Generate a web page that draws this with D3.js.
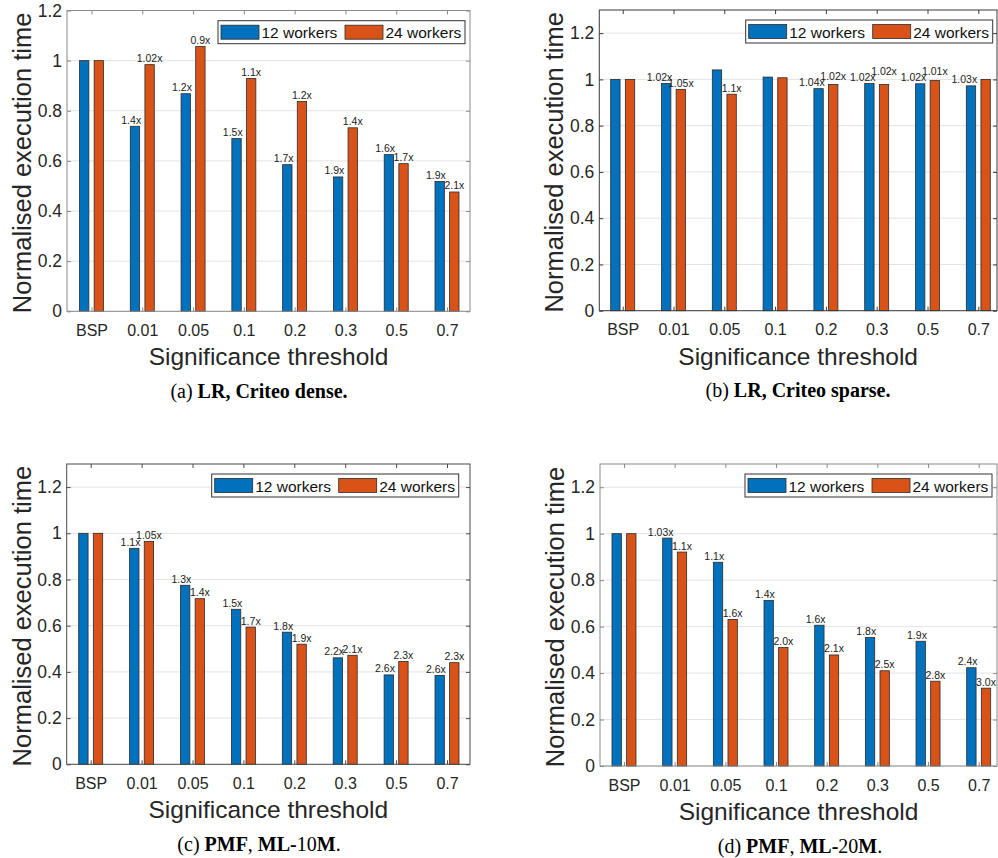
<!DOCTYPE html>
<html>
<head>
<meta charset="utf-8">
<script src="https://cdn.jsdelivr.net/npm/d3@7"></script>
<style>
  html, body { margin: 0; padding: 0; background: #fff; }
  svg { display: block; }
</style>
</head>
<body>
<svg id="chart" width="998" height="858"></svg>
<script>
// ---------------- DATA ----------------
const categories = ["BSP", "0.01", "0.05", "0.1", "0.2", "0.3", "0.5", "0.7"];
const seriesNames = ["12 workers", "24 workers"];
const yTicksA = [0, 0.2, 0.4, 0.6, 0.8, 1, 1.2];
const yTickLabels = ["0", "0.2", "0.4", "0.6", "0.8", "1", "1.2"];

// (a) LR, Criteo dense
const lrDense12 = [1.0, 0.738, 0.868, 0.689, 0.585, 0.536, 0.625, 0.518];
const lrDense24 = [1.0, 0.984, 1.056, 0.929, 0.837, 0.732, 0.589, 0.476];
const lrDenseLbl12 = ["", "1.4x", "1.2x", "1.5x", "1.7x", "1.9x", "1.6x", "1.9x"];
const lrDenseLbl24 = ["", "1.02x", "0.9x", "1.1x", "1.2x", "1.4x", "1.7x", "2.1x"];

// (b) LR, Criteo sparse
const lrSparse12 = [1.0, 0.982, 1.041, 1.010, 0.960, 0.982, 0.981, 0.972];
const lrSparse24 = [1.0, 0.957, 0.936, 1.007, 0.978, 0.978, 0.995, 1.0];
const lrSparseLbl12 = ["", "1.02x", "", "", "1.04x", "1.02x", "1.02x", "1.03x"];
const lrSparseLbl24 = ["", "1.05x", "1.1x", "", "1.02x", "1.02x", "1.01x", ""];

// (c) PMF, ML-10M
const pmf10m12 = [1.0, 0.935, 0.775, 0.671, 0.572, 0.461, 0.387, 0.385];
const pmf10m24 = [1.0, 0.965, 0.717, 0.594, 0.520, 0.472, 0.445, 0.440];
const pmf10mLbl12 = ["", "1.1x", "1.3x", "1.5x", "1.8x", "2.2x", "2.6x", "2.6x"];
const pmf10mLbl24 = ["", "1.05x", "1.4x", "1.7x", "1.9x", "2.1x", "2.3x", "2.3x"];

// (d) PMF, ML-20M
const pmf20m12 = [1.0, 0.981, 0.877, 0.713, 0.606, 0.553, 0.537, 0.423];
const pmf20m24 = [1.0, 0.921, 0.631, 0.510, 0.478, 0.410, 0.365, 0.335];
const pmf20mLbl12 = ["", "1.03x", "1.1x", "1.4x", "1.6x", "1.8x", "1.9x", "2.4x"];
const pmf20mLbl24 = ["", "1.1x", "1.6x", "2.0x", "2.1x", "2.5x", "2.8x", "3.0x"];

const xTitle = "Significance threshold";
const yTitle = "Normalised execution time";
const captionA = [["(a) ", false], ["LR, Criteo dense.", true]];
const captionB = [["(b) ", false], ["LR, Criteo sparse.", true]];
const captionC = [["(c) ", false], ["PMF", true], [", ", false], ["ML-", true], ["10", false], ["M", true], [".", false]];
const captionD = [["(d) ", false], ["PMF", true], [", ", false], ["ML-", true], ["20", false], ["M", true], [".", false]];

// ---------------- STYLE / LAYOUT ----------------
const colors = ["#0072BD", "#D95319"];
const textColor = "#262626";
const sans = "'Liberation Sans', Arial, Helvetica, sans-serif";
const serif = "'Liberation Serif', 'Times New Roman', serif";

const panels = [
  { v: [lrDense12, lrDense24], l: [lrDenseLbl12, lrDenseLbl24], cap: captionA, yMax: 1.2,
    left: 67, right: 470, top: 10.5, bottom: 311.3, c0: 91.5, c7: 447, axis: "#8a8a8a",
    legend: { x: 218, y: 20.7 }, capX: 259 },
  { v: [lrSparse12, lrSparse24], l: [lrSparseLbl12, lrSparseLbl24], cap: captionB, yMax: 1.3,
    left: 599.3, right: 997, top: 10, bottom: 310.7, c0: 622.7, c7: 978.3, axis: "#3a3a3a",
    legend: { x: 745.7, y: 20 }, capX: 798 },
  { v: [pmf10m12, pmf10m24], l: [pmf10mLbl12, pmf10mLbl24], cap: captionC, yMax: 1.3,
    left: 66.7, right: 470, top: 464, bottom: 764.3, c0: 90.7, c7: 447, axis: "#4a4a4a",
    legend: { x: 211.7, y: 474 }, capX: 259 },
  { v: [pmf20m12, pmf20m24], l: [pmf20mLbl12, pmf20mLbl24], cap: captionD, yMax: 1.3,
    left: 600, right: 997, top: 464, bottom: 766, c0: 624, c7: 978.7, axis: "#8a8a8a",
    legend: { x: 745, y: 474 }, capX: 800 }
];

const svg = d3.select("#chart");

panels.forEach((p) => {
  const g = svg.append("g");
  const x = d3.scalePoint().domain(categories).range([p.c0, p.c7]);
  const inner = d3.scaleBand().domain(seriesNames).range([-12, 12]).paddingInner(0.36);
  const y = d3.scaleLinear().domain([0, p.yMax]).range([p.bottom, p.top]);

  // grid
  g.append("g").selectAll("line").data(yTicksA).join("line")
    .attr("x1", p.left).attr("x2", p.right)
    .attr("y1", d => y(d)).attr("y2", d => y(d))
    .attr("stroke", "#e3e3e3").attr("stroke-width", 1);

  // bars
  seriesNames.forEach((s, si) => {
    g.append("g").selectAll("rect").data(p.v[si]).join("rect")
      .attr("x", (d, i) => x(categories[i]) + inner(s))
      .attr("width", inner.bandwidth())
      .attr("y", d => y(d))
      .attr("height", d => y(0) - y(d))
      .attr("fill", colors[si])
      .attr("stroke", "#2b2b2b").attr("stroke-width", 0.8);
  });

  // box
  g.append("rect")
    .attr("x", p.left).attr("y", p.top)
    .attr("width", p.right - p.left).attr("height", p.bottom - p.top)
    .attr("fill", "none").attr("stroke", p.axis).attr("stroke-width", 1);

  // y axes (inward ticks)
  const yAxis = g.append("g").attr("transform", `translate(${p.left},0)`)
    .call(d3.axisLeft(y).tickValues(yTicksA).tickFormat((d, i) => yTickLabels[i])
      .tickSizeInner(-4).tickSizeOuter(0).tickPadding(5));
  yAxis.select(".domain").remove();
  yAxis.selectAll("line").attr("stroke", p.axis);
  yAxis.selectAll("text").attr("font-family", sans).attr("font-size", 17.5).attr("fill", textColor);

  const yAxisR = g.append("g").attr("transform", `translate(${p.right},0)`)
    .call(d3.axisRight(y).tickValues(yTicksA).tickFormat("").tickSizeInner(-4).tickSizeOuter(0));
  yAxisR.select(".domain").remove();
  yAxisR.selectAll("line").attr("stroke", p.axis);

  // x axes
  const xAxis = g.append("g").attr("transform", `translate(0,${p.bottom})`)
    .call(d3.axisBottom(x).tickSizeInner(-4).tickSizeOuter(0).tickPadding(0));
  xAxis.select(".domain").remove();
  xAxis.selectAll("line").attr("stroke", p.axis);
  xAxis.selectAll("text").attr("y", 24.5).attr("dy", null)
    .attr("font-family", sans).attr("font-size", 16).attr("fill", textColor);

  const xAxisT = g.append("g").attr("transform", `translate(0,${p.top})`)
    .call(d3.axisTop(x).tickFormat("").tickSizeInner(-4).tickSizeOuter(0));
  xAxisT.select(".domain").remove();
  xAxisT.selectAll("line").attr("stroke", p.axis);

  // value labels
  const lblG = g.append("g").attr("font-family", sans).attr("font-size", 10.5).attr("fill", "#222");
  categories.forEach((c, i) => {
    const bx = x(c) + inner(seriesNames[0]);
    const ox = x(c) + inner(seriesNames[1]);
    const bw = inner.bandwidth();
    let bt = null, bBase = null;
    if (p.l[0][i]) {
      bBase = y(p.v[0][i]) - 2.5;
      bt = lblG.append("text").attr("x", bx + bw + 1.5).attr("y", bBase)
        .attr("text-anchor", "end").text(p.l[0][i]);
    }
    if (p.l[1][i]) {
      let oBase = y(p.v[1][i]) - 2.5;
      const ot = lblG.append("text").attr("x", ox + bw / 2).attr("y", oBase)
        .attr("text-anchor", "middle").text(p.l[1][i]);
      if (bt) {
        const bEnd = bx + bw + 1.5;
        const oStart = ox + bw / 2 - ot.node().getComputedTextLength() / 2;
        if (bEnd - oStart > 2 && Math.abs(bBase - oBase) < 5) {
          ot.attr("y", Math.min(oBase, bBase - 6));
        }
      }
    }
  });

  // legend
  const lg = g.append("g").attr("transform", `translate(${p.legend.x},${p.legend.y})`);
  lg.append("rect").attr("width", 247).attr("height", 23)
    .attr("fill", "#fff").attr("stroke", "#333").attr("stroke-width", 1);
  seriesNames.forEach((s, si) => {
    const ox = si === 0 ? 3 : 127;
    lg.append("rect").attr("x", ox).attr("y", 4.5).attr("width", 38).attr("height", 14)
      .attr("fill", colors[si]).attr("stroke", "#2b2b2b").attr("stroke-width", 0.8);
    lg.append("text").attr("x", ox + 40.5).attr("y", 17.5)
      .attr("font-family", sans).attr("font-size", 15.5).attr("fill", "#111").text(s);
  });

  // axis titles
  g.append("text").attr("x", (p.left + p.right) / 2).attr("y", p.bottom + 54)
    .attr("text-anchor", "middle").attr("font-family", sans).attr("font-size", 24.5)
    .attr("fill", textColor).text(xTitle);
  g.append("text")
    .attr("transform", `translate(${p.left - 36},${(p.top + p.bottom) / 2 + 2}) rotate(-90)`)
    .attr("text-anchor", "middle").attr("font-family", sans).attr("font-size", 25.5)
    .attr("fill", textColor).text(yTitle);

  // caption
  const cap = g.append("text").attr("x", p.capX).attr("y", p.bottom + 86.5)
    .attr("text-anchor", "middle").attr("font-family", serif).attr("font-size", 20).attr("fill", "#000");
  p.cap.forEach(([t, b]) => {
    cap.append("tspan").attr("font-weight", b ? "bold" : "normal").text(t);
  });
});
</script>
</body>
</html>
